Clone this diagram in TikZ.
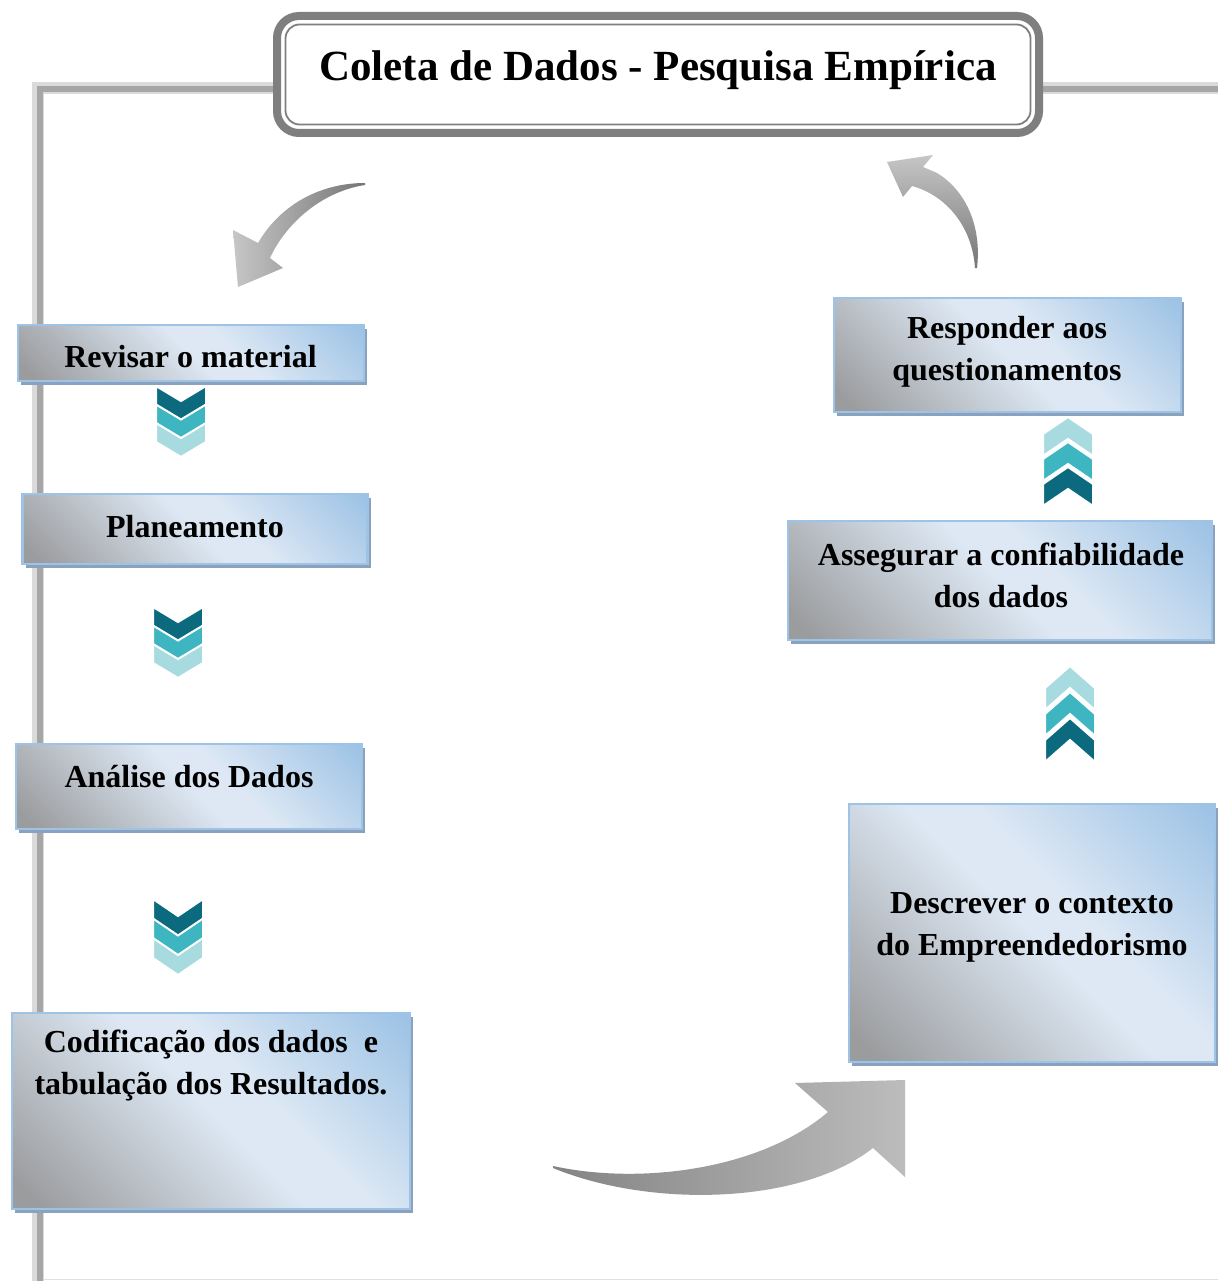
\documentclass[tikz,border=0pt]{standalone}
\usepackage{fontspec}
\setmainfont{Liberation Serif}
\usetikzlibrary{shadows,calc}
\definecolor{bxA}{HTML}{9B9C9E}
\definecolor{bxB}{HTML}{DDE8F4}
\definecolor{bxC}{HTML}{9CC2E5}
\definecolor{bxEdge}{HTML}{9DC3E6}
\definecolor{bxShadow}{HTML}{8AA2BE}
\definecolor{chDark}{HTML}{0B6A7E}
\definecolor{chMid}{HTML}{3DB6C1}
\definecolor{chLight}{HTML}{A7DBE0}
\definecolor{arDark}{HTML}{767676}
\definecolor{arLight}{HTML}{C6C6C6}
\definecolor{frameDark}{HTML}{A6A6A6}
\definecolor{frameLight}{HTML}{DADADA}
\definecolor{titleGray}{HTML}{7F7F7F}
\pgfdeclareverticalshading{boxsh}{100bp}{color(0bp)=(bxA); color(18bp)=(bxA); color(50bp)=(bxB); color(58bp)=(bxB); color(85bp)=(bxC); color(100bp)=(bxC)}
\tikzset{
  procbox/.style={rectangle, shade, shading=boxsh, shading angle=-45, draw=bxEdge, line width=2.5pt, inner sep=0pt,
    drop shadow={shadow xshift=3pt, shadow yshift=-4pt, fill=bxShadow, opacity=1}},
  lbl/.style={font=\fontsize{32}{42}\selectfont\bfseries, align=center, inner sep=0pt},
  titlebox/.style={rectangle, rounded corners=22pt, draw=titleGray, line width=8pt, fill=white, outer sep=0pt, inner sep=0pt},
  chev/.style={draw=white, line width=2pt, line join=miter},
  arrowshape/.style={draw=none}
}
% down chevron group: x, top, spacing, thickness, depth
\newcommand\chevdn[5]{%
  \foreach \cc [count=\ii from 0] in {chDark,chMid,chLight}{%
    \begin{scope}[shift={(#1,{#2+\ii*#3})}]
      \filldraw[chev, fill=\cc] (-25,0) -- (0,#5) -- (25,0) -- (25,#4) -- (0,#4+#5) -- (-25,#4) -- cycle;
    \end{scope}}}
% up chevron group: x, top tip, spacing, thickness, depth
\newcommand\chevup[5]{%
  \foreach \cc [count=\ii from 0] in {chLight,chMid,chDark}{%
    \begin{scope}[shift={(#1,{#2+\ii*#3})}]
      \filldraw[chev, fill=\cc] (0,0) -- (25,#5) -- (25,#4+#5) -- (0,#4) -- (-25,#4+#5) -- (-25,#5) -- cycle;
    \end{scope}}}
\begin{document}
\begin{tikzpicture}[x=1pt, y=-1pt]
\useasboundingbox (0,0) rectangle (1218,1281);
\fill[white] (0,0) rectangle (1218,1281);
% frame
\draw[line width=12pt, frameLight] (38,1281) -- (38,88) -- (1218,88);
\draw[line width=6pt, frameDark] (40,1281) -- (40,89) -- (1218,89);
\draw[line width=1.5pt, black!12] (44,1279.5) -- (1218,1279.5);
% chevrons
\chevdn{181}{386}{18.5}{19}{15}
\chevdn{178}{607}{18.5}{19}{15}
\chevdn{178}{899}{19.5}{20}{17}
\chevup{1068}{417}{25}{22}{17}
\chevup{1070}{666}{26}{22}{22}
% curved arrows
\shade[arrowshape, left color=arLight, right color=arDark]
  (365,183) .. controls (320,183) and (280,205) .. (258,243) -- (233,230) -- (238,287) -- (283,268) -- (270,258)
  .. controls (285,225) and (320,192) .. (365,185) -- cycle;
\shade[arrowshape, top color=arLight, bottom color=arDark]
  (977,268) .. controls (982,225) and (965,190) .. (937,173) -- (923,167) -- (933,155) -- (887,162) -- (903,197) -- (912,186)
  .. controls (945,195) and (972,225) .. (975,268) -- cycle;
\shade[arrowshape, left color=arDark!90!white, right color=arLight!95!black]
  (553,1166) .. controls (640,1185) and (760,1170) .. (828,1112) -- (795,1083) -- (905,1080) -- (905,1177) -- (873,1148)
  .. controls (800,1205) and (650,1208) .. (553,1168) -- cycle;
% boxes
\node[procbox, minimum width=346pt, minimum height=56pt] (rev) at (191,353) {};
\node[procbox, minimum width=345pt, minimum height=70pt] (plan) at (195,529) {};
\node[procbox, minimum width=346pt, minimum height=85pt] (anal) at (189,786.5) {};
\node[procbox, minimum width=398pt, minimum height=196pt] (cod) at (211,1111) {};
\node[procbox, minimum width=366pt, minimum height=258pt] (desc) at (1032,933) {};
\node[procbox, minimum width=424pt, minimum height=119pt] (aseg) at (1000,580.5) {};
\node[procbox, minimum width=347pt, minimum height=114pt] (resp) at (1007.5,355) {};
% texts
\node[lbl] (trev) at (190.5,357) {Revisar o material};
\node[lbl] (tplan) at (195,527) {Planeamento};
\node[lbl] (tanal) at (189,777) {Análise dos Dados};
\node[lbl] (tcod) at (211,1066) {Codificação dos dados~ e\\tabulação dos Resultados.};
\node[lbl] (tdesc) at (1032,927) {Descrever o contexto\\do Empreendedorismo};
\node[lbl] (taseg) at (1001,575) {Assegurar a confiabilidade\\dos dados};
\node[lbl] (tresp) at (1007,352) {Responder aos\\questionamentos};
% title
\node[titlebox, minimum width=762pt, minimum height=117pt] (title) at (658,74.5) {};
\draw[titleGray, line width=1.8pt, rounded corners=14pt] ($(title.south west)+(8.5,-8.5)$) rectangle ($(title.north east)+(-8.5,8.5)$);
\node[font=\fontsize{43}{50}\selectfont\bfseries, inner sep=0pt] (ttl) at (658,70) {Coleta de Dados - Pesquisa Empírica};
\end{tikzpicture}
\end{document}
